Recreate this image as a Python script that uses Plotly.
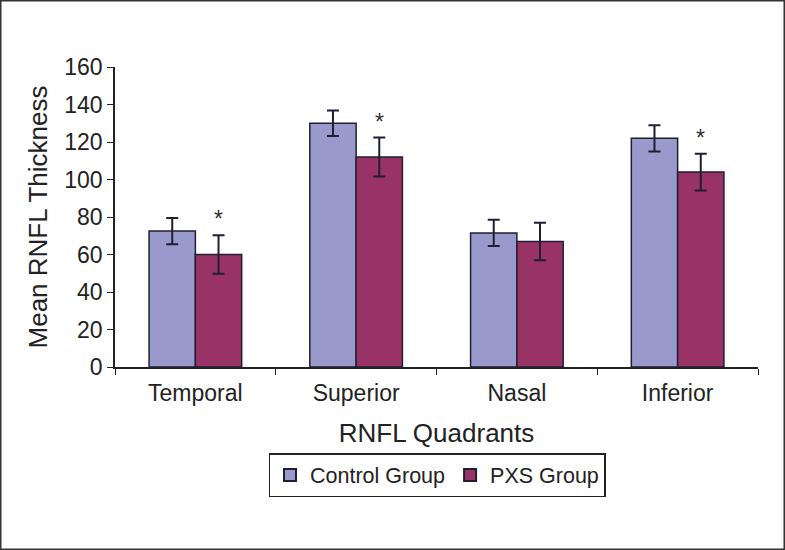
import plotly.graph_objects as go

quadrants = ["Temporal", "Superior", "Nasal", "Inferior"]
control_mean = [72.5, 130, 71.5, 122]
control_sd = [7, 6.8, 7, 7]
pxs_mean = [60, 112, 67, 104]
pxs_sd = [10.3, 10.4, 10, 9.8]
significant = [True, True, False, True]
y_ticks = [0, 20, 40, 60, 80, 100, 120, 140, 160]

FONT = "Liberation Sans, Arial, sans-serif"
fig = go.Figure()
fig.add_trace(go.Bar(
    name="Control Group", x=quadrants, y=control_mean,
    marker=dict(color="#9999CC", line=dict(color="#1f1f33", width=1.5)),
    error_y=dict(type="data", array=control_sd, color="#1f1f33", thickness=2, width=6),
))
fig.add_trace(go.Bar(
    name="PXS Group", x=quadrants, y=pxs_mean,
    marker=dict(color="#993366", line=dict(color="#1f1f33", width=1.5)),
    error_y=dict(type="data", array=pxs_sd, color="#1f1f33", thickness=2, width=6),
))

for q, m, s, sig in zip(quadrants, pxs_mean, pxs_sd, significant):
    if sig:
        fig.add_annotation(x=q, y=m + s, text="*", showarrow=False,
                           xshift=23, yshift=16, font=dict(size=23, color="#333333", family=FONT))

W, H = 785, 550
L, R, T, B = 115, 27, 67, 183
pw, ph = W - L - R, H - T - B


def px_x(px):
    return (px - L) / pw


def px_y(py):
    return (H - B - py) / ph


fig.add_shape(type="rect", xref="paper", yref="paper",
              x0=px_x(0.75), x1=px_x(W - 0.75),
              y0=px_y(H - 0.75), y1=px_y(0.75),
              line=dict(color="#333333", width=1.5))

fig.update_layout(
    width=W, height=H,
    margin=dict(l=L, r=R, t=T, b=B, autoexpand=False),
    paper_bgcolor="white", plot_bgcolor="white",
    barmode="group", bargap=0.424, bargroupgap=0,
    font=dict(family=FONT, color="#222222"),
    showlegend=True,
    legend=dict(orientation="h", x=px_x(437), xanchor="center",
                y=px_y(453), yanchor="top",
                bordercolor="#222222", borderwidth=1.5, font=dict(size=21.5),
                itemsizing="constant"),
    xaxis=dict(
        showline=True, linecolor="#222222", linewidth=1.5,
        ticks="outside", tickson="boundaries", ticklen=6, tickcolor="#222222",
        tickfont=dict(size=23), showgrid=False, ticklabelstandoff=5,
        title=dict(text="RNFL Quadrants", font=dict(size=26), standoff=18),
    ),
    yaxis=dict(
        range=[0, 160], tickvals=y_ticks,
        showline=True, linecolor="#222222", linewidth=1.5,
        ticks="outside", ticklen=6, tickcolor="#222222",
        tickfont=dict(size=23), showgrid=False, zeroline=False,
        title=dict(text="Mean RNFL Thickness", font=dict(size=26), standoff=9),
    ),
)

fig.write_html("out.html", config={"displayModeBar": False},
               post_script="document.body.style.margin='0';document.body.style.overflow='hidden';")
